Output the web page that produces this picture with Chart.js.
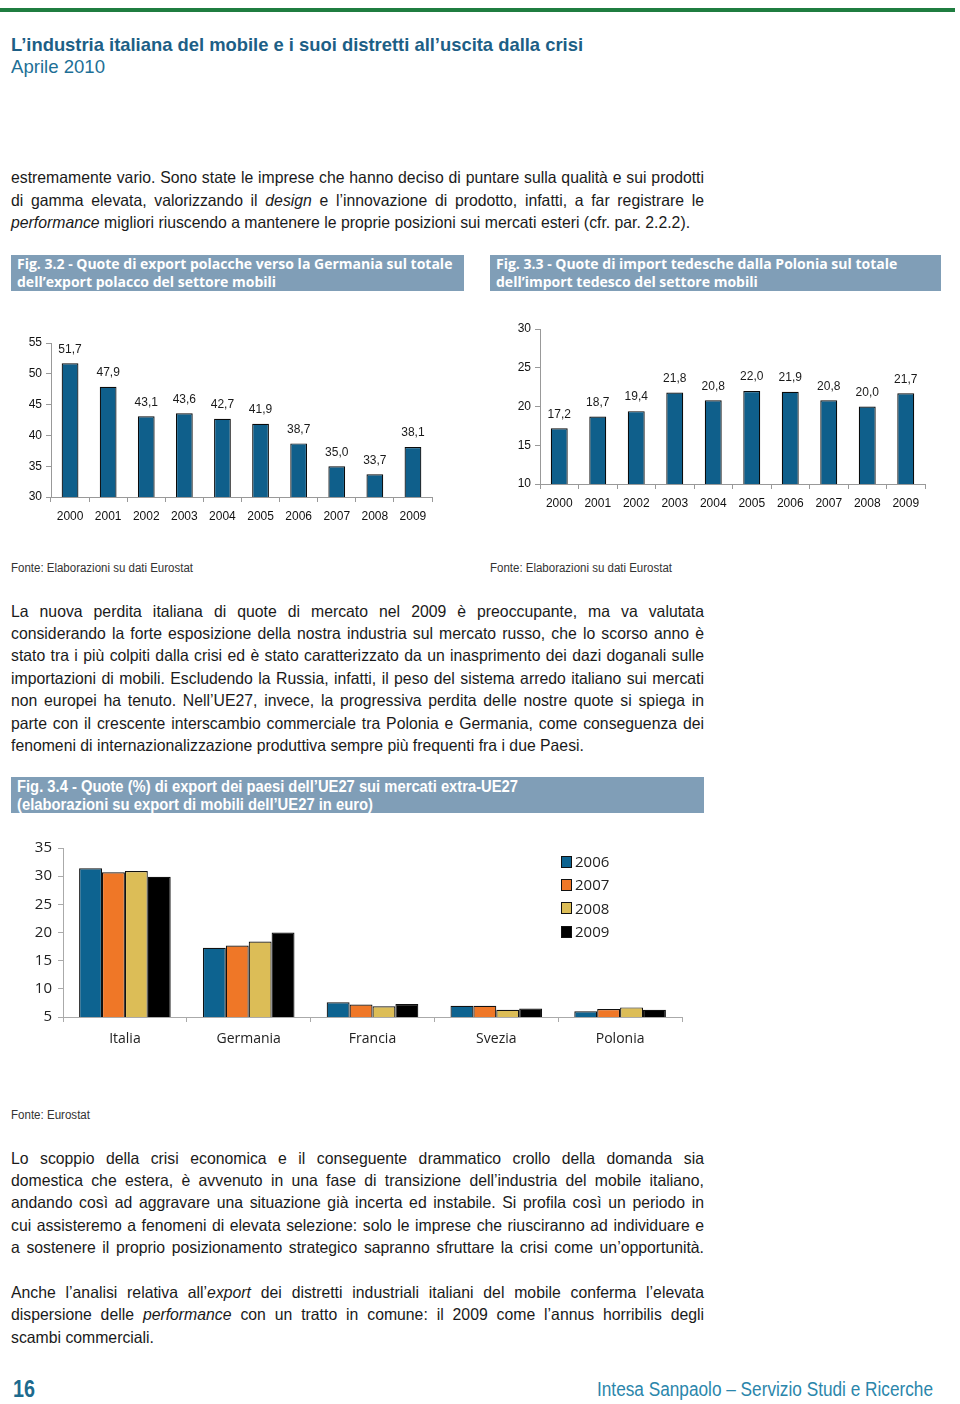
<!DOCTYPE html>
<html lang="it">
<head>
<meta charset="utf-8">
<title>L'industria italiana del mobile</title>
<script src="https://cdn.jsdelivr.net/npm/chart.js@4.4.1/dist/chart.umd.min.js"></script>
<style>
  html, body { margin: 0; padding: 0; background: #fff; }
  body { width: 960px; height: 1404px; position: relative; overflow: hidden;
         font-family: "Liberation Sans", Arial, sans-serif; color: #1a1a1a; }
  .abs { position: absolute; }
  .fit { white-space: nowrap; transform-origin: 0 0; }
  .rule { left: 0; top: 8px; width: 955px; height: 4px; background: #1f7d40; }
  .title { left: 11px; top: 34px; font-size: 19px; font-weight: bold; color: #1d5f86; }
  .subtitle { left: 11px; top: 56px; font-size: 19px; color: #1d6f96; }
  .ln { left: 11px; font-size: 16.5px; line-height: 22px; height: 22px; text-align: justify; text-align-last: justify;
        transform-origin: 0 0; white-space: nowrap; }
  .ln.last { text-align-last: left; }
  .fig { background: #809eb7; color: #fff; font-family: "Open Sans", "Noto Sans", sans-serif; font-weight: bold;
         font-size: 14px; line-height: 18px; padding: 0 6px; box-sizing: border-box; }
  .fig34 { font-family: "Liberation Sans", Arial, sans-serif; font-size: 16px; line-height: 19px; padding: 0; }
  .fig34 div { position: absolute; left: 6px; }
  .src { font-size: 12px; color: #333; }
  .box { position: absolute; }
  .legend { left: 561px; top: 850px; font-family: "Open Sans", "Noto Sans", sans-serif; font-size: 15px; color: #222; }
  .legend div { height: 23.3px; line-height: 23px; display: flex; align-items: center; }
  .legend span.sw { display: inline-block; width: 9px; height: 10px; border: 1px solid #111; margin-right: 3px; }
  .pg { left: 13px; top: 1376px; font-size: 23px; font-weight: bold; color: #1d6a8e; }
  .foot { left: 597px; top: 1378px; font-size: 20px; color: #2b86ab; }
</style>
</head>
<body>
<div class="abs rule"></div>
<div class="abs title fit" data-w="572">L’industria italiana del mobile e i suoi distretti all’uscita dalla crisi</div>
<div class="abs subtitle fit" data-w="94">Aprile 2010</div>

<div class="abs ln" style="top:166px">estremamente vario. Sono state le imprese che hanno deciso di puntare sulla qualità e sui prodotti</div>
<div class="abs ln" style="top:189px">di gamma elevata, valorizzando il <i>design</i> e l’innovazione di prodotto, infatti, a far registrare le</div>
<div class="abs ln last" id="refline" style="top:211px"><i>performance</i> migliori riuscendo a mantenere le proprie posizioni sui mercati esteri (cfr. par. 2.2.2).</div>

<div class="abs fig" style="left:11px;top:255px;width:453px;height:36px">Fig. 3.2 - Quote di export polacche verso la Germania sul totale<br>dell’export polacco del settore mobili</div>
<div class="abs fig" style="left:490px;top:255px;width:451px;height:36px">Fig. 3.3 - Quote di import tedesche dalla Polonia sul totale<br>dell’import tedesco del settore mobili</div>

<div class="box" style="left:0;top:320px;width:470px;height:220px"><canvas id="fig32"></canvas></div>
<div class="box" style="left:480px;top:310px;width:470px;height:220px"><canvas id="fig33"></canvas></div>

<div class="abs src fit" data-w="182" style="left:11px;top:561px">Fonte: Elaborazioni su dati Eurostat</div>
<div class="abs src fit" data-w="182" style="left:490px;top:561px">Fonte: Elaborazioni su dati Eurostat</div>

<div class="abs ln" style="top:600px">La nuova perdita italiana di quote di mercato nel 2009 è preoccupante, ma va valutata</div>
<div class="abs ln" style="top:622px">considerando la forte esposizione della nostra industria sul mercato russo, che lo scorso anno è</div>
<div class="abs ln" style="top:644px">stato tra i più colpiti dalla crisi ed è stato caratterizzato da un inasprimento dei dazi doganali sulle</div>
<div class="abs ln" style="top:667px">importazioni di mobili. Escludendo la Russia, infatti, il peso del sistema arredo italiano sui mercati</div>
<div class="abs ln" style="top:689px">non europei ha tenuto. Nell’UE27, invece, la progressiva perdita delle nostre quote si spiega in</div>
<div class="abs ln" style="top:712px">parte con il crescente interscambio commerciale tra Polonia e Germania, come conseguenza dei</div>
<div class="abs ln last" style="top:734px">fenomeni di internazionalizzazione produttiva sempre più frequenti fra i due Paesi.</div>

<div class="abs fig fig34" style="left:11px;top:777px;width:693px;height:36px">
  <div class="fit" data-w="501" style="top:0">Fig. 3.4 - Quote (%) di export dei paesi dell’UE27 sui mercati extra-UE27</div>
  <div class="fit" data-w="356" style="top:18px">(elaborazioni su export di mobili dell’UE27 in euro)</div>
</div>

<div class="box" style="left:0;top:830px;width:700px;height:230px"><canvas id="fig34"></canvas></div>
<div class="abs legend" id="legend34"></div>

<div class="abs src fit" data-w="79" style="left:11px;top:1108px">Fonte: Eurostat</div>

<div class="abs ln" style="top:1147px">Lo scoppio della crisi economica e il conseguente drammatico crollo della domanda sia</div>
<div class="abs ln" style="top:1169px">domestica che estera, è avvenuto in una fase di transizione dell’industria del mobile italiano,</div>
<div class="abs ln" style="top:1191px">andando così ad aggravare una situazione già incerta ed instabile. Si profila così un periodo in</div>
<div class="abs ln" style="top:1214px">cui assisteremo a fenomeni di elevata selezione: solo le imprese che riusciranno ad individuare e</div>
<div class="abs ln" style="top:1236px">a sostenere il proprio posizionamento strategico sapranno sfruttare la crisi come un’opportunità.</div>

<div class="abs ln" style="top:1281px">Anche l’analisi relativa all’<i>export</i> dei distretti industriali italiani del mobile conferma l’elevata</div>
<div class="abs ln" style="top:1303px">dispersione delle <i>performance</i> con un tratto in comune: il 2009 come l’annus horribilis degli</div>
<div class="abs ln last" style="top:1326px">scambi commerciali.</div>

<div class="abs pg fit" data-w="22">16</div>
<div class="abs foot fit" data-w="336">Intesa Sanpaolo – Servizio Studi e Ricerche</div>

<script>
  // dati
  const years = ['2000', '2001', '2002', '2003', '2004', '2005', '2006', '2007', '2008', '2009'];
  const plExportToDe = [51.7, 47.9, 43.1, 43.6, 42.7, 41.9, 38.7, 35.0, 33.7, 38.1];
  const deImportFromPl = [17.2, 18.7, 19.4, 21.8, 20.8, 22.0, 21.9, 20.8, 20.0, 21.7];

  const countries = ['Italia', 'Germania', 'Francia', 'Svezia', 'Polonia'];
  const seriesYears = ['2006', '2007', '2008', '2009'];
  const share2006 = [31.4, 17.3, 7.6, 7.0, 6.0];
  const share2007 = [30.7, 17.7, 7.2, 7.0, 6.4];
  const share2008 = [30.9, 18.4, 6.9, 6.3, 6.7];
  const share2009 = [29.9, 20.0, 7.3, 6.5, 6.3];
  const seriesColors = ['#0d6390', '#ef7727', '#dcbd57', '#000000'];

  // testo condensato: niente font narrow installato, quindi si stringe in orizzontale
  document.querySelectorAll('.fit').forEach(el => {
    el.style.display = 'inline-block';
    const w = el.getBoundingClientRect().width;
    el.style.transform = `scaleX(${(+el.dataset.w / w).toFixed(4)})`;
  });

  const ref = document.getElementById('refline');
  ref.style.display = 'inline-block';
  const k = 679 / ref.getBoundingClientRect().width;
  document.querySelectorAll('.ln').forEach(el => {
    el.style.display = 'block';
    el.style.whiteSpace = el.classList.contains('last') ? 'nowrap' : 'normal';
    el.style.width = (693 / k) + 'px';
    el.style.transform = `scaleX(${k.toFixed(4)})`;
  });

  const fmt = (v) => v.toFixed(1).replace('.', ',');
  const barBlue = '#0f5f8b';

  const valueLabelPlugin = {
    id: 'valueLabelPlugin',
    afterDatasetsDraw(chart) {
      const { ctx } = chart;
      ctx.save();
      ctx.font = '12px "Liberation Sans", Arial, sans-serif';
      ctx.fillStyle = '#1a1a1a';
      ctx.textAlign = 'center';
      ctx.textBaseline = 'middle';
      const meta = chart.getDatasetMeta(0);
      const data = chart.data.datasets[0].data;
      meta.data.forEach((bar, i) => {
        ctx.fillText(fmt(data[i]), bar.x, bar.y - 14);
      });
      ctx.restore();
    }
  };

  function yearChart(id, values, min, max, yWidth, pad) {
    return new Chart(document.getElementById(id), {
      type: 'bar',
      data: {
        labels: years,
        datasets: [{ data: values, backgroundColor: barBlue, borderColor: '#0a0a0a', borderWidth: 1.2,
                     barPercentage: 0.88, categoryPercentage: 0.5 }]
      },
      options: {
        responsive: true,
        maintainAspectRatio: false,
        animation: false,
        layout: { padding: pad },
        plugins: { legend: { display: false }, tooltip: { enabled: false } },
        scales: {
          x: {
            grid: { drawOnChartArea: false, color: '#999', tickLength: 5 },
            border: { color: '#999' },
            ticks: { color: '#111', font: { family: '"Liberation Sans", Arial', size: 12 }, padding: 7 },
            afterFit: (s) => { s.height = 30; }
          },
          y: {
            min: min, max: max,
            grid: { drawOnChartArea: false, color: '#999', tickLength: 5 },
            border: { color: '#999' },
            ticks: { stepSize: 5, color: '#111', font: { family: '"Liberation Sans", Arial', size: 12 }, padding: 4 },
            afterFit: (s) => { s.width = yWidth; }
          }
        }
      },
      plugins: [valueLabelPlugin]
    });
  }

  yearChart('fig32', plExportToDe, 30, 55, 51, { top: 23, right: 38, bottom: 13, left: 0 });
  yearChart('fig33', deImportFromPl, 10, 30, 60, { top: 19, right: 25, bottom: 16, left: 0 });

  const shares = [share2006, share2007, share2008, share2009];

  new Chart(document.getElementById('fig34'), {
    type: 'bar',
    data: {
      labels: countries,
      datasets: seriesYears.map((y, i) => ({
        label: y,
        data: shares[i],
        backgroundColor: seriesColors[i],
        borderColor: '#111',
        borderWidth: 1.2,
        barPercentage: 1,
        categoryPercentage: 0.74
      }))
    },
    options: {
      responsive: true,
      maintainAspectRatio: false,
      animation: false,
      layout: { padding: { top: 18, right: 18, bottom: 8, left: 0 } },
      plugins: { legend: { display: false }, tooltip: { enabled: false } },
      scales: {
        x: {
          grid: { drawOnChartArea: false, color: '#aaa', tickLength: 5 },
          border: { color: '#aaa' },
          ticks: { color: '#222', font: { family: '"Open Sans", "Noto Sans"', size: 14 }, padding: 9 },
          afterFit: (s) => { s.height = 35; }
        },
        y: {
          min: 5, max: 35,
          grid: { drawOnChartArea: false, color: '#aaa', tickLength: 5 },
          border: { color: '#aaa' },
          ticks: { stepSize: 5, color: '#222', font: { family: '"Open Sans", "Noto Sans"', size: 15 }, padding: 6 },
          afterFit: (s) => { s.width = 63; }
        }
      }
    }
  });

  // legenda HTML
  const leg = document.getElementById('legend34');
  seriesYears.forEach((y, i) => {
    const row = document.createElement('div');
    row.innerHTML = `<span class="sw" style="background:${seriesColors[i]}"></span>${y}`;
    leg.appendChild(row);
  });
</script>
</body>
</html>
